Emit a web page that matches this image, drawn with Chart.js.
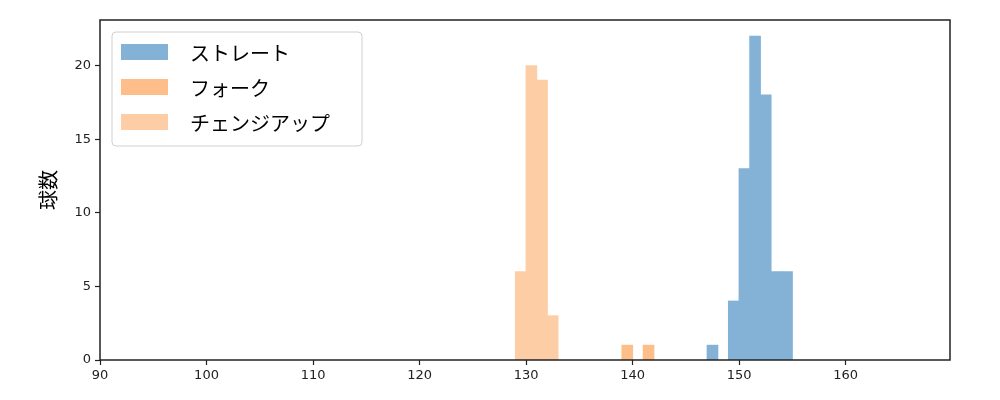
<!DOCTYPE html>
<html>
<head>
<meta charset="utf-8">
<script src="https://cdn.jsdelivr.net/npm/chart.js@4/dist/chart.umd.min.js"></script>
<style>
  body { margin: 0; background: #fff; }
</style>
</head>
<body>
<canvas id="pitchHist" width="1000" height="400"></canvas>
<script>
// 球速ヒストグラム (ビン左端とその球数)
const straightBins = [147, 149, 150, 151, 152, 153, 154];
const straightCounts = [1, 4, 13, 22, 18, 6, 6];
const forkBins = [139, 141];
const forkCounts = [1, 1];
const changeupBins = [129, 130, 131, 132];
const changeupCounts = [6, 20, 19, 3];
const xTicks = [90, 100, 110, 120, 130, 140, 150, 160];
const yTicks = [0, 5, 10, 15, 20];

const toPoints = (bins, counts) => bins.map((b, i) => ({ x: b + 0.5, y: counts[i] }));

const jpFont = '"Noto Sans CJK JP", "DejaVu Sans", sans-serif';

const legendBox = {
  id: 'legendBox',
  afterDraw(chart) {
    const ctx = chart.ctx;
    const area = chart.chartArea;
    ctx.save();
    // frame around plot
    ctx.strokeStyle = '#222';
    ctx.lineWidth = 1.5;
    ctx.strokeRect(area.left, area.top, area.right - area.left, area.bottom - area.top);

    const x0 = area.left + 12, y0 = area.top + 12;
    ctx.beginPath();
    ctx.roundRect(x0, y0, 250, 114, 4);
    ctx.fillStyle = 'rgba(255,255,255,0.8)';
    ctx.fill();
    ctx.strokeStyle = '#d0d0d0';
    ctx.lineWidth = 1;
    ctx.stroke();

    chart.data.datasets.forEach((ds, i) => {
      const cy = y0 + 20 + i * 35;
      ctx.fillStyle = ds.backgroundColor;
      ctx.fillRect(x0 + 9, cy - 8, 47, 16);
      ctx.fillStyle = '#000';
      ctx.font = '20px ' + jpFont;
      ctx.textBaseline = 'middle';
      ctx.fillText(ds.label, x0 + 78, cy + 1);
    });
    ctx.restore();
  }
};

new Chart(document.getElementById('pitchHist'), {
  type: 'bar',
  data: {
    datasets: [
      { label: 'ストレート', data: toPoints(straightBins, straightCounts), backgroundColor: '#84b2d7' },
      { label: 'フォーク', data: toPoints(forkBins, forkCounts), backgroundColor: '#febe8a' },
      { label: 'チェンジアップ', data: toPoints(changeupBins, changeupCounts), backgroundColor: '#fdcea6' }
    ]
  },
  options: {
    responsive: false,
    animation: false,
    grouped: false,
    barPercentage: 1,
    categoryPercentage: 1,
    borderWidth: 0,
    inflateAmount: 0.5,
    layout: { padding: { top: 20, right: 50, left: 0, bottom: 0 } },
    plugins: { legend: { display: false }, tooltip: { enabled: false } },
    scales: {
      x: {
        type: 'linear',
        offset: false,
        min: 90,
        max: 169.8,
        afterBuildTicks: s => { s.ticks = xTicks.map(v => ({ value: v })); },
        afterFit: s => { s.height = 40; },
        grid: { offset: false, drawOnChartArea: false, tickLength: 5, tickColor: '#222', tickWidth: 1.2 },
        border: { display: false },
        ticks: { color: '#222', font: { family: 'DejaVu Sans', size: 13 }, padding: 3, maxRotation: 0 }
      },
      y: {
        min: 0,
        max: 23.1,
        afterBuildTicks: s => { s.ticks = yTicks.map(v => ({ value: v })); },
        afterFit: s => { s.width = 100; },
        grid: { drawOnChartArea: false, tickLength: 5, tickColor: '#222', tickWidth: 1.2 },
        border: { display: false },
        ticks: { color: '#222', font: { family: 'DejaVu Sans', size: 13 }, padding: 4 },
        title: { display: true, text: '球数', color: '#000', font: { family: jpFont, size: 20 }, padding: { top: 36 } }
      }
    }
  },
  plugins: [legendBox]
});
</script>
</body>
</html>
